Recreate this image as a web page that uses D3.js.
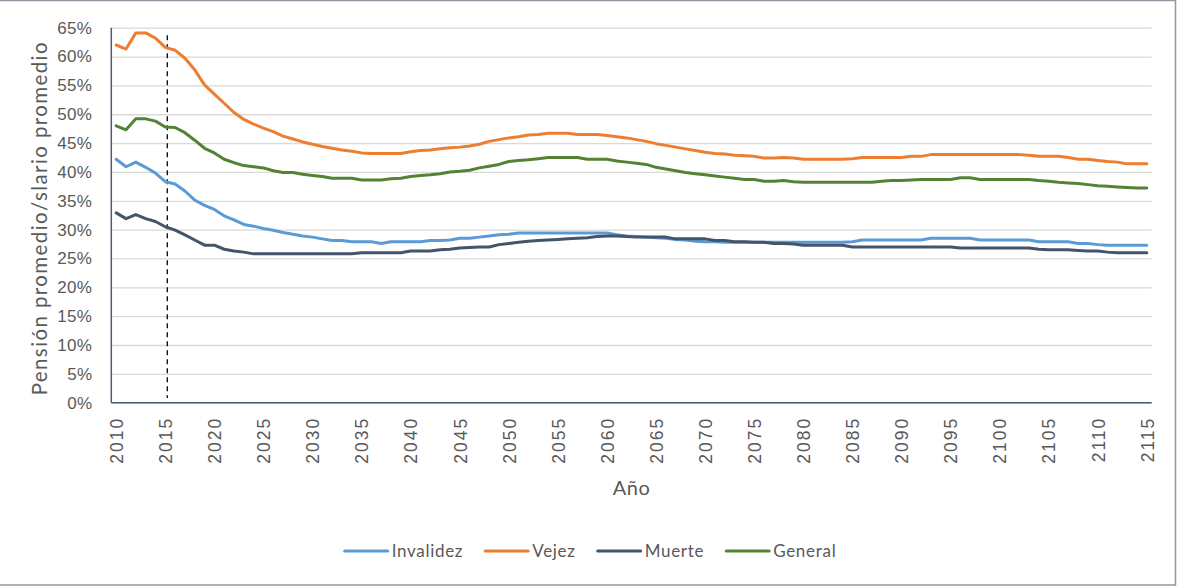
<!DOCTYPE html>
<html>
<head>
<meta charset="utf-8">
<script src="https://cdn.jsdelivr.net/npm/d3@7"></script>
<style>
  html, body { margin: 0; padding: 0; background: #fff; }
  svg { display: block; font-family: Lato, "Open Sans", sans-serif; }
</style>
</head>
<body>
<svg id="chart" width="1179" height="586"></svg>
<script>
// Years of the projection
const years = d3.range(2010, 2116);

// Average pension / average salary ratio (%) by benefit type
const invalidez = [
  42.2, 40.9, 41.7, 40.8, 39.8, 38.3, 37.9, 36.7, 35.1, 34.2,
  33.5, 32.4, 31.7, 30.9, 30.6, 30.2, 29.9, 29.5, 29.2, 28.9,
  28.7, 28.4, 28.1, 28.1, 27.9, 27.9, 27.9, 27.6, 27.9, 27.9,
  27.9, 27.9, 28.1, 28.1, 28.2, 28.5, 28.5, 28.7, 28.9, 29.1,
  29.2, 29.4, 29.4, 29.4, 29.4, 29.4, 29.4, 29.4, 29.4, 29.4,
  29.4, 29.1, 28.9, 28.8, 28.7, 28.6, 28.5, 28.3, 28.2, 28.0,
  27.9, 27.9, 27.8, 27.8, 27.8, 27.8, 27.8, 27.8, 27.8, 27.8,
  27.8, 27.8, 27.8, 27.8, 27.8, 27.9, 28.2, 28.2, 28.2, 28.2,
  28.2, 28.2, 28.2, 28.5, 28.5, 28.5, 28.5, 28.5, 28.2, 28.2,
  28.2, 28.2, 28.2, 28.2, 27.9, 27.9, 27.9, 27.9, 27.6, 27.6,
  27.4, 27.3, 27.3, 27.3, 27.3, 27.3
];

const vejez = [
  62.0, 61.3, 64.1, 64.1, 63.2, 61.6, 61.1, 59.7, 57.7, 55.1,
  53.5, 51.9, 50.3, 49.1, 48.3, 47.6, 47.0, 46.2, 45.7, 45.2,
  44.8, 44.4, 44.1, 43.8, 43.6, 43.3, 43.2, 43.2, 43.2, 43.2,
  43.5, 43.7, 43.8, 44.0, 44.2, 44.3, 44.5, 44.8, 45.3, 45.6,
  45.9, 46.1, 46.4, 46.5, 46.7, 46.7, 46.7, 46.5, 46.5, 46.5,
  46.3, 46.1, 45.9, 45.6, 45.3, 44.9, 44.6, 44.3, 44.0, 43.7,
  43.4, 43.2, 43.1, 42.9, 42.8, 42.7, 42.4, 42.4, 42.5, 42.4,
  42.2, 42.2, 42.2, 42.2, 42.2, 42.3, 42.5, 42.5, 42.5, 42.5,
  42.5, 42.7, 42.7, 43.0, 43.0, 43.0, 43.0, 43.0, 43.0, 43.0,
  43.0, 43.0, 43.0, 42.9, 42.7, 42.7, 42.7, 42.5, 42.2, 42.2,
  42.0, 41.8, 41.7, 41.4, 41.4, 41.4
];

const muerte = [
  32.9, 31.9, 32.6, 31.9, 31.4, 30.5, 29.9, 29.1, 28.2, 27.3,
  27.3, 26.6, 26.3, 26.1, 25.8, 25.8, 25.8, 25.8, 25.8, 25.8,
  25.8, 25.8, 25.8, 25.8, 25.8, 26.0, 26.0, 26.0, 26.0, 26.0,
  26.3, 26.3, 26.3, 26.5, 26.6, 26.8, 26.9, 27.0, 27.0, 27.4,
  27.6, 27.8, 28.0, 28.1, 28.2, 28.3, 28.4, 28.5, 28.6, 28.8,
  28.9, 28.9, 28.8, 28.7, 28.7, 28.7, 28.7, 28.4, 28.4, 28.4,
  28.4, 28.1, 28.1, 27.9, 27.9, 27.8, 27.8, 27.6, 27.6, 27.5,
  27.3, 27.3, 27.3, 27.3, 27.3, 27.0, 27.0, 27.0, 27.0, 27.0,
  27.0, 27.0, 27.0, 27.0, 27.0, 27.0, 26.8, 26.8, 26.8, 26.8,
  26.8, 26.8, 26.8, 26.8, 26.6, 26.5, 26.5, 26.5, 26.4, 26.3,
  26.3, 26.1, 26.0, 26.0, 26.0, 26.0
];

const general = [
  48.0, 47.3, 49.2, 49.2, 48.8, 47.8, 47.7, 46.8, 45.5, 44.1,
  43.3, 42.2, 41.6, 41.1, 40.9, 40.7, 40.2, 39.9, 39.9, 39.6,
  39.4, 39.2, 38.9, 38.9, 38.9, 38.6, 38.6, 38.6, 38.8, 38.9,
  39.2, 39.4, 39.5, 39.7, 40.0, 40.1, 40.3, 40.7, 41.0, 41.3,
  41.8, 42.0, 42.1, 42.3, 42.5, 42.5, 42.5, 42.5, 42.2, 42.2,
  42.2, 41.9, 41.7, 41.5, 41.3, 40.8, 40.5, 40.2, 39.9, 39.7,
  39.5, 39.3, 39.1, 38.9, 38.7, 38.7, 38.4, 38.4, 38.5, 38.3,
  38.2, 38.2, 38.2, 38.2, 38.2, 38.2, 38.2, 38.2, 38.4, 38.5,
  38.5, 38.6, 38.7, 38.7, 38.7, 38.7, 39.0, 39.0, 38.7, 38.7,
  38.7, 38.7, 38.7, 38.7, 38.5, 38.4, 38.2, 38.1, 38.0, 37.8,
  37.6, 37.5, 37.4, 37.3, 37.2, 37.2
];

const seriesNames = ["Invalidez", "Vejez", "Muerte", "General"];
const seriesColors = ["#5b9bd5", "#ed7d31", "#44546a", "#548235"];

// Axis tick labels
const xTickYears = [2010, 2015, 2020, 2025, 2030, 2035, 2040, 2045, 2050, 2055,
  2060, 2065, 2070, 2075, 2080, 2085, 2090, 2095, 2100, 2105, 2110, 2115];
const yTicks = [0, 5, 10, 15, 20, 25, 30, 35, 40, 45, 50, 55, 60, 65];

// Year marking the start of the projection
const markerYear = 2015;
const markerTop = 63.7;

const xTitle = "Año";
const yTitle = "Pensión promedio/slario promedio";

// ---- layout ----
const W = 1179, H = 586;
const plot = { left: 111.3, right: 1151.7, top: 27.7, bottom: 402.7 };
const textColor = "#595959";
const axisColor = "#4d5d74";
const gridColor = "#d9d9d9";

const svg = d3.select("#chart");

// Outer chart frame
svg.append("rect")
  .attr("x", -2).attr("y", 0.5)
  .attr("width", 1177.5).attr("height", 584.5)
  .attr("fill", "none")
  .attr("stroke", "#8f99a3")
  .attr("stroke-width", 1.5);

const x = d3.scalePoint()
  .domain(years)
  .range([plot.left, plot.right])
  .padding(0.5);

const y = d3.scaleLinear()
  .domain([0, 65])
  .range([plot.bottom, plot.top]);

// Horizontal gridlines
const yAxis = d3.axisLeft(y)
  .tickValues(yTicks)
  .tickSize(-(plot.right - plot.left))
  .tickPadding(19)
  .tickFormat(d => d + "%");

const gy = svg.append("g")
  .attr("transform", `translate(${plot.left},0)`)
  .call(yAxis);
gy.select(".domain").remove();
gy.selectAll(".tick line")
  .attr("stroke", gridColor)
  .attr("stroke-width", 1.3);
gy.selectAll(".tick text")
  .attr("fill", textColor)
  .style("font-size", "17px")
  .style("letter-spacing", "0.3px");

// Category axis along the bottom
const xAxis = d3.axisBottom(x)
  .tickValues(xTickYears)
  .tickSize(0)
  .tickFormat(d => String(d));

const gx = svg.append("g")
  .attr("transform", `translate(0,${plot.bottom})`)
  .call(xAxis);
gx.select(".domain")
  .attr("d", `M${plot.left},0H${plot.right}`)
  .attr("stroke", axisColor)
  .attr("stroke-width", 1.5);
gx.selectAll(".tick text")
  .attr("fill", textColor)
  .style("font-size", "17.5px")
  .style("letter-spacing", "2px")
  .attr("text-anchor", "end")
  .attr("transform", "translate(0,14) rotate(-90)")
  .attr("x", 0)
  .attr("y", 0)
  .attr("dy", "0.36em");

// Vertical value axis line
svg.append("line")
  .attr("x1", plot.left).attr("x2", plot.left)
  .attr("y1", plot.top).attr("y2", plot.bottom)
  .attr("stroke", axisColor)
  .attr("stroke-width", 1.5);

// Dashed marker at the first projected year
svg.append("line")
  .attr("x1", x(markerYear) + 2).attr("x2", x(markerYear) + 2)
  .attr("y1", y(markerTop)).attr("y2", y(0.8))
  .attr("stroke", "#000")
  .attr("stroke-width", 1.3)
  .attr("stroke-dasharray", "5,4");

// Series lines
const seriesData = [invalidez, vejez, muerte, general];
const line = d3.line()
  .x((d, i) => x(years[i]))
  .y(d => y(d));

svg.append("g")
  .selectAll("path")
  .data(seriesData)
  .join("path")
  .attr("d", line)
  .attr("fill", "none")
  .attr("stroke", (d, i) => seriesColors[i])
  .attr("stroke-width", 3)
  .attr("stroke-linejoin", "round")
  .attr("stroke-linecap", "round");

// Axis titles
svg.append("text")
  .attr("x", (plot.left + plot.right) / 2)
  .attr("y", 495)
  .attr("text-anchor", "middle")
  .attr("fill", textColor)
  .style("font-size", "20px")
  .style("letter-spacing", "0.5px")
  .text(xTitle);

svg.append("text")
  .attr("transform", `translate(47,${(plot.top + plot.bottom) / 2 + 3}) rotate(-90)`)
  .attr("text-anchor", "middle")
  .attr("fill", textColor)
  .style("font-size", "20.5px")
  .style("letter-spacing", "1.4px")
  .text(yTitle);

// Legend, centred under the chart
const legend = svg.append("g");
const items = legend.selectAll("g")
  .data(seriesNames)
  .join("g");
items.append("line")
  .attr("x1", 0).attr("x2", 43)
  .attr("y1", 0).attr("y2", 0)
  .attr("stroke", (d, i) => seriesColors[i])
  .attr("stroke-width", 3)
  .attr("stroke-linecap", "round");
items.append("text")
  .attr("x", 47)
  .attr("y", 0)
  .attr("dy", "0.35em")
  .attr("fill", textColor)
  .style("font-size", "17px")
  .style("letter-spacing", "0.7px")
  .text(d => d);

const widths = [];
items.each(function () {
  widths.push(this.getBBox().width);
});
const gap = 22;
const total = d3.sum(widths) + gap * (widths.length - 1);
let cursor = W / 2 + 1 - total / 2;
items.attr("transform", (d, i) => {
  const t = `translate(${cursor},551)`;
  cursor += widths[i] + gap;
  return t;
});
</script>
</body>
</html>
